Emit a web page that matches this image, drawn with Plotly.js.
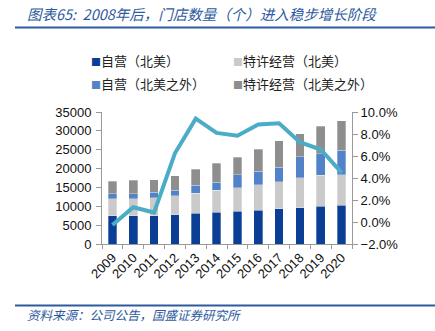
<!DOCTYPE html>
<html>
<head>
<meta charset="utf-8">
<script src="https://cdn.plot.ly/plotly-3.0.1.min.js"></script>
<style>html,body{margin:0;padding:0;background:#fff;}#chart{width:435px;height:331px;}</style>
</head>
<body>
<div id="chart"></div>
<script>
const years = ['2009','2010','2011','2012','2013','2014','2015','2016','2017','2018','2019','2020'];
const ownNA = [7500, 7500, 7500, 7750, 8100, 8400, 8650, 9000, 9350, 9650, 10000, 10250];
const licNA = [4500, 4500, 4700, 5050, 5400, 5800, 6200, 6750, 7200, 7950, 8200, 8150];
const ownIntl = [1350, 1350, 1500, 1500, 2050, 2150, 3550, 3500, 3850, 5550, 5750, 6450];
const licIntl = [3250, 3500, 3300, 3800, 4250, 5000, 4650, 5850, 6950, 6150, 7300, 7850];
const growth = [-0.27, 1.34, 0.86, 6.25, 9.4, 8.1, 7.85, 8.86, 8.98, 7.26, 6.59, 4.49];
const seriesNames = ['自营（北美）', '特许经营（北美）', '自营（北美之外）', '特许经营（北美之外）'];
const colors = ['#0B3F96', '#CACACA', '#5283C9', '#8E8E8E'];
const titleText = '图表65:  2008年后，门店数量（个）进入稳步增长阶段';
const sourceText = '资料来源：公司公告，国盛证券研究所';

const font = 'Liberation Sans, Arial, sans-serif';
const cjk = 'Noto Sans CJK SC, sans-serif';
const vals = [ownNA, licNA, ownIntl, licIntl];
const traces = vals.map((v, i) => ({
  type: 'bar', x: years, y: v, name: seriesNames[i],
  marker: {color: colors[i], line: {color: 'rgba(255,255,255,0.6)', width: 0.5}},
  showlegend: false, hoverinfo: 'skip'
}));
traces.push({
  type: 'scatter', mode: 'lines', x: years, y: growth, yaxis: 'y2',
  line: {color: '#4BACC6', width: 4}, showlegend: false, hoverinfo: 'skip'
});

const legPos = [[92, 61], [234, 61], [92, 83], [234, 83]];
const W = 435, H = 331, ml = 102, mr = 83, mt = 112, mb = 87;
const pw = W - ml - mr, ph = H - mt - mb;
const px = x => (x - ml) / pw;
const py = y => (H - mb - y) / ph;
const annotations = seriesNames.map((n, i) => ({
  xref: 'paper', yref: 'paper', x: px(legPos[i][0] - 3), y: py(legPos[i][1]),
  xanchor: 'left', yanchor: 'middle', showarrow: false,
  text: '<span style="color:' + colors[i] + ';font-size:10px">■</span>' + n,
  font: {family: cjk, size: 13, color: '#222'}
}));
annotations.push({
  xref: 'paper', yref: 'paper', x: px(25), y: py(13), xanchor: 'left', yanchor: 'middle',
  showarrow: false, text: titleText,
  font: {family: cjk, size: 14.5, color: '#2E5AA0', style: 'italic'}
});
annotations.push({
  xref: 'paper', yref: 'paper', x: px(25), y: py(314), xanchor: 'left', yanchor: 'middle',
  showarrow: false, text: sourceText,
  font: {family: cjk, size: 12.5, color: '#2E5AA0', style: 'italic'}
});

const layout = {
  width: W, height: H,
  margin: {l: ml, r: mr, t: mt, b: mb},
  paper_bgcolor: '#fff', plot_bgcolor: '#fff',
  barmode: 'stack', bargap: 0.59,
  font: {family: font, size: 13, color: '#111'},
  xaxis: {
    type: 'category', showgrid: false, zeroline: false,
    showline: true, linecolor: '#9a9a9a', linewidth: 1,
    ticks: 'outside', tickson: 'boundaries', ticklen: 4, tickcolor: '#9a9a9a',
    tickangle: -45, tickfont: {family: font, size: 13, color: '#111'}
  },
  yaxis: {
    range: [0, 35000], dtick: 5000, tickformat: 'd', showgrid: false, zeroline: false,
    showline: true, linecolor: '#9a9a9a', linewidth: 1,
    ticks: 'outside', ticklen: 5, tickcolor: '#9a9a9a',
    tickfont: {family: font, size: 13, color: '#111'}, ticklabelstandoff: 2
  },
  yaxis2: {
    overlaying: 'y', side: 'right', range: [-2, 10], dtick: 2,
    tickformat: '.1f', ticksuffix: '%', showgrid: false, zeroline: false,
    showline: true, linecolor: '#9a9a9a', linewidth: 1,
    ticks: 'outside', ticklen: 5, tickcolor: '#9a9a9a',
    tickfont: {family: font, size: 13, color: '#111'}
  },
  shapes: [
    {type: 'line', xref: 'paper', yref: 'paper', x0: px(15), x1: px(435), y0: py(27.5), y1: py(27.5),
     line: {color: '#2E5AA0', width: 2}},
    {type: 'line', xref: 'paper', yref: 'paper', x0: px(15), x1: px(435), y0: py(305.5), y1: py(305.5),
     line: {color: '#2E5AA0', width: 2}}
  ],
  annotations: annotations,
  showlegend: false
};
Plotly.newPlot('chart', traces, layout, {displayModeBar: false, staticPlot: true});
</script>
</body>
</html>
